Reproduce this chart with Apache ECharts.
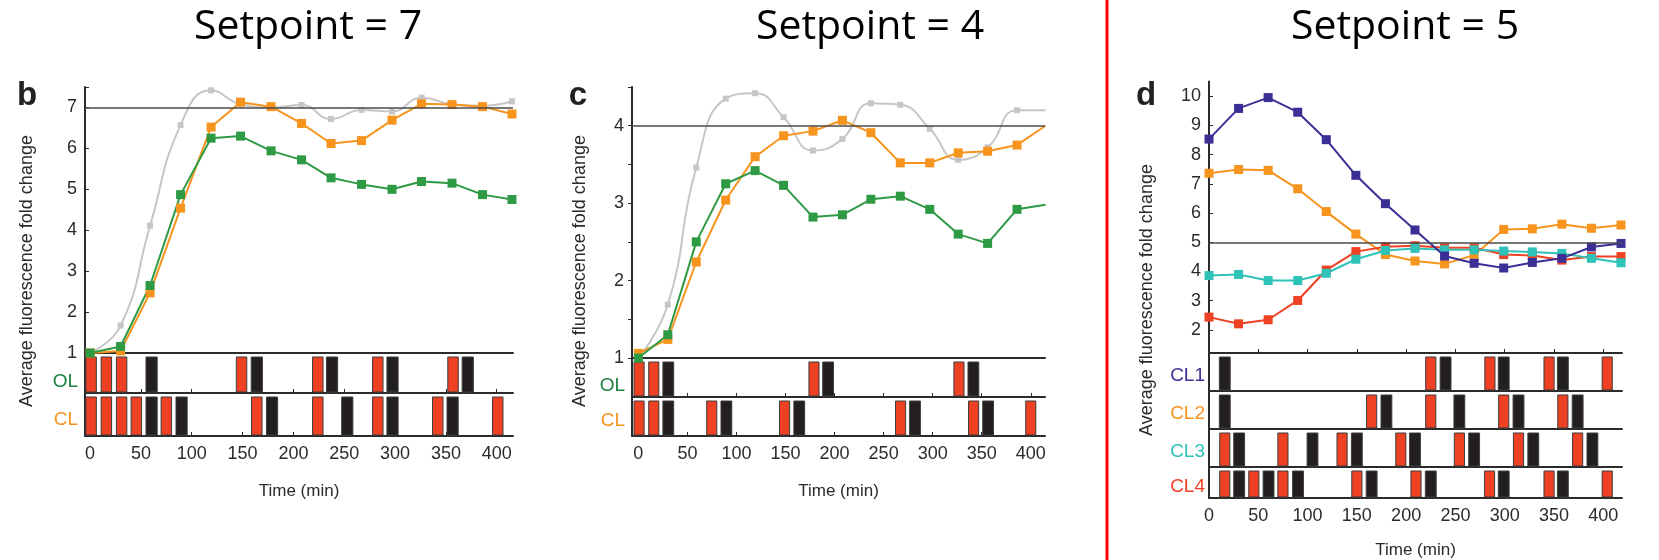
<!DOCTYPE html>
<html>
<head>
<meta charset="utf-8">
<script src="https://cdn.jsdelivr.net/npm/echarts@6/dist/echarts.min.js"></script>
<style>
html, body { margin: 0; padding: 0; background: #fff; }
#main { width: 1659px; height: 560px; }
</style>
</head>
<body>
<div id="main"></div>
<script>
// sampling times (min)
var timesBC = [0, 30, 59, 89, 119, 148, 178, 208, 237, 267, 297, 326, 356, 386, 415];
var timesD = [0, 30, 60, 90, 119, 149, 179, 209, 239, 269, 299, 328, 358, 388, 418];
var xTicks = [0, 50, 100, 150, 200, 250, 300, 350, 400];

// panel b, setpoint 7
var bOL = [1.0, 1.16, 2.65, 4.87, 6.25, 6.30, 5.94, 5.72, 5.28, 5.12, 5.0, 5.19, 5.15, 4.87, 4.75];
var bCL = [1.0, 1.05, 2.47, 4.54, 6.52, 7.13, 7.02, 6.61, 6.12, 6.19, 6.69, 7.09, 7.07, 7.02, 6.84];
var bModel = [1.0, 1.67, 4.11, 6.57, 7.42, 7.08, 7.0, 7.06, 6.72, 6.94, 6.9, 7.24, 7.08, 7.04, 7.15];
// panel c, setpoint 4
var cOL = [1.0, 1.30, 2.50, 3.25, 3.42, 3.23, 2.82, 2.85, 3.05, 3.09, 2.92, 2.60, 2.48, 2.92, 2.98];
var cCL = [1.06, 1.24, 2.24, 3.04, 3.60, 3.87, 3.93, 4.07, 3.91, 3.52, 3.52, 3.65, 3.67, 3.75, 4.0];
var cModel = [1.0, 1.69, 3.46, 4.35, 4.42, 4.11, 3.68, 3.83, 4.29, 4.27, 3.96, 3.56, 3.72, 4.20, 4.20];
// panel d, setpoint 5
var dCL1 = [8.53, 9.58, 9.95, 9.45, 8.51, 7.29, 6.32, 5.42, 4.53, 4.28, 4.12, 4.31, 4.45, 4.84, 4.96];
var dCL2 = [7.36, 7.49, 7.46, 6.83, 6.05, 5.28, 4.58, 4.36, 4.26, 4.56, 5.44, 5.46, 5.62, 5.48, 5.59];
var dCL3 = [3.86, 3.90, 3.69, 3.69, 3.94, 4.42, 4.72, 4.79, 4.74, 4.74, 4.70, 4.67, 4.62, 4.45, 4.30];
var dCL4 = [2.44, 2.21, 2.35, 3.01, 4.05, 4.68, 4.85, 4.88, 4.81, 4.81, 4.58, 4.55, 4.39, 4.51, 4.51];

// light pulses (centre time, min): red and black
var bOLRed = [1, 16, 31, 149, 224, 283, 357];
var bOLBlack = [60.5, 164, 238, 297.5, 371.5];
var bCLRed = [1, 16, 31, 45.5, 75, 164, 224, 283, 342, 401];
var bCLBlack = [60.5, 90, 179, 253, 297.5, 356.6];
var cOLRed = [0.7, 15.7, 179, 326.8];
var cOLBlack = [30.5, 193.4, 341.5];
var cCLRed = [0.7, 15.7, 74.8, 149, 267.3, 341.7, 400];
var cCLBlack = [30.5, 89.7, 164, 282, 356.5];
var d1Red = [225, 285, 345, 404];
var d1Black = [16, 240, 299, 359];
var d2Red = [165, 225, 299, 359];
var d2Black = [16, 180, 254, 314, 374];
var d3Red = [16, 75, 135, 194.6, 254, 314, 374];
var d3Black = [30.6, 105, 150, 209, 269, 329, 389];
var d4Red = [16, 45.5, 75, 150, 210, 284.6, 345, 404];
var d4Black = [30.6, 60.4, 90.3, 165, 225, 299, 359];

var FONT = '"Liberation Sans", Arial, Helvetica, sans-serif';
var INK = '#2b2b2b';
var GREEN = '#2e9a44', ORANGE = '#f7941d', GREY = '#c6c6c6';
var PURPLE = '#3b2f96', CYAN = '#2fc2b8', RED = '#ef4123';

var myChart = echarts.init(document.getElementById('main'));

function pairs(ts, vs) {
  return ts.map(function (t, i) { return [t, vs[i]]; });
}
function pulses(red, black) {
  return red.map(function (t) { return [t, 0, 0]; })
    .concat(black.map(function (t) { return [t, 0, 1]; }));
}
function pulseItem(params, api) {
  var kind = api.value(2);
  var w = kind === 0 ? 10.3 : 11;
  var t = api.value(0);
  var p0 = api.coord([t - w / 2, 0]);
  var p1 = api.coord([t + w / 2, 0]);
  var band = api.size([0, 1])[1];
  var top = p0[1] - band / 2 + 4;
  var bottom = p0[1] + band / 2 - 1;
  return {
    type: 'rect',
    shape: { x: p0[0], y: top, width: p1[0] - p0[0], height: bottom - top },
    style: { fill: kind === 0 ? '#ee4124' : '#231f20', stroke: '#3d3d3d', lineWidth: 1 }
  };
}

var grids = [], xAxes = [], yAxes = [], series = [];

function intLabel(v) { return Math.abs(v - Math.round(v)) < 1e-6 ? String(Math.round(v)) : ''; }

function addLineGrid(pos, xr, yr, opt) {
  var gi = grids.length;
  grids.push({ left: pos[0], top: pos[1], width: pos[2], height: pos[3] });
  xAxes.push({
    type: 'value', gridIndex: gi, min: xr[0], max: xr[1], show: opt.showX,
    axisLine: { show: true, onZero: false, lineStyle: { color: INK, width: 2 } },
    axisTick: { show: false }, axisLabel: { show: false }, splitLine: { show: false }
  });
  yAxes.push({
    type: 'value', gridIndex: gi, min: yr[0], max: yr[1], interval: yr[2],
    axisLine: { show: true, onZero: false, lineStyle: { color: INK, width: 2 } },
    axisTick: { show: true, inside: opt.tickInside, length: 4, lineStyle: { color: INK }, customValues: opt.tickValues },
    axisLabel: { color: INK, fontSize: 18, fontFamily: FONT, margin: 8,
      formatter: function (v) { return opt.hide.indexOf(v) >= 0 ? '' : intLabel(v); } },
    splitLine: { show: false }
  });
  return gi;
}

function addRow(pos, xr, name, color, red, black, opt) {
  var gi = grids.length;
  grids.push({ left: pos[0], top: pos[1], width: pos[2], height: pos[3] });
  xAxes.push({
    type: 'value', gridIndex: gi, min: xr[0], max: xr[1],
    name: opt.last ? 'Time (min)' : '', nameLocation: 'middle', nameGap: opt.nameGap || 46,
    nameTextStyle: { color: INK, fontSize: 17, fontFamily: FONT },
    axisLine: { show: true, onZero: false, lineStyle: { color: INK, width: 2 } },
    axisTick: { show: !!opt.ticks, inside: true, length: 4, lineStyle: { color: INK }, customValues: xTicks },
    axisLabel: { show: !!opt.last, color: INK, fontSize: 18, fontFamily: FONT, margin: 9, customValues: xTicks },
    splitLine: { show: false }
  });
  if (opt.topTicks) {
    xAxes.push({
      type: 'value', gridIndex: gi, min: xr[0], max: xr[1], position: 'top',
      axisLine: { show: true, onZero: false, lineStyle: { color: INK, width: 2 } },
      axisTick: { show: true, length: 4, lineStyle: { color: INK }, customValues: xTicks },
      axisLabel: { show: false }, splitLine: { show: false }
    });
  }
  var yi = yAxes.length;
  yAxes.push({
    type: 'category', gridIndex: gi, data: [name],
    axisLine: { show: true, onZero: false, lineStyle: { color: INK, width: 2 } },
    axisTick: { show: false },
    axisLabel: { color: color, fontSize: 19, fontFamily: FONT, margin: opt.margin || 7,
      verticalAlign: 'top', lineHeight: 2 * opt.drop },
    splitLine: { show: false }
  });
  series.push({
    type: 'custom', coordinateSystem: 'cartesian2d',
    xAxisIndex: xAxes.length - (opt.topTicks ? 2 : 1), yAxisIndex: yi,
    encode: { x: 0, y: 1 }, renderItem: pulseItem, silent: true,
    data: pulses(red, black)
  });
}

function lineSeries(gi, data, color, size, smooth, setpoint) {
  var s = {
    type: 'line', xAxisIndex: gi, yAxisIndex: gi, data: data,
    symbol: 'rect', symbolSize: size, smooth: smooth, silent: true,
    lineStyle: { color: color, width: 2 }, itemStyle: { color: color },
    animation: false
  };
  if (setpoint !== undefined) {
    s.markLine = {
      silent: true, symbol: 'none', label: { show: false },
      lineStyle: { color: '#4a4a4a', width: 1.5, type: 'solid' },
      data: [{ yAxis: setpoint }]
    };
  }
  return s;
}

// ---- panel b
var xB = [-5, 416];
var gB = addLineGrid([85, 87, 428, 266], xB, [1, 7.5, 1], { showX: true, tickInside: true, hide: [] });
series.push(lineSeries(gB, pairs(timesBC, bModel), GREY, 6, true, 7));
series.push(lineSeries(gB, pairs(timesBC, bCL), ORANGE, 9, false));
series.push(lineSeries(gB, pairs(timesBC, bOL), GREEN, 9, false));
addRow([85, 353, 428, 40], xB, 'OL', '#1d7f3d', bOLRed, bOLBlack, { ticks: true, drop: 9 });
addRow([85, 393, 428, 43], xB, 'CL', ORANGE, bCLRed, bCLBlack, { ticks: true, last: true, nameGap: 47, drop: 5 });

// ---- panel c
var xC = [-6.5, 414.5];
var gC = addLineGrid([632, 87, 413, 271], xC, [1, 4.5, 0.5], { showX: true, tickInside: false, hide: [] });
series.push(lineSeries(gC, pairs(timesBC, cModel), GREY, 6, true, 4));
series.push(lineSeries(gC, pairs(timesBC, cCL), ORANGE, 9, false));
series.push(lineSeries(gC, pairs(timesBC, cOL), GREEN, 9, false));
addRow([632, 358, 413, 39], xC, 'OL', '#1d7f3d', cOLRed, cOLBlack, { ticks: true, drop: 8 });
addRow([632, 397, 413, 39], xC, 'CL', ORANGE, cCLRed, cCLBlack, { ticks: true, last: true, nameGap: 47, drop: 4 });

// ---- panel d
var xD = [0, 419];
var gD = addLineGrid([1209, 81.5, 413, 277.7], xD, [1, 10.5, 1],
  { showX: false, tickInside: true, hide: [1], tickValues: [2, 3, 4, 5, 6, 7, 8, 9, 10] });
series.push(lineSeries(gD, pairs(timesD, dCL2), ORANGE, 9, false, 5));
series.push(lineSeries(gD, pairs(timesD, dCL4), RED, 9, false));
series.push(lineSeries(gD, pairs(timesD, dCL3), CYAN, 9, false));
series.push(lineSeries(gD, pairs(timesD, dCL1), PURPLE, 9, false));
addRow([1209, 353, 413, 38], xD, 'CL1', PURPLE, d1Red, d1Black, { topTicks: true, margin: 4, drop: 4 });
addRow([1209, 391, 413, 38], xD, 'CL2', ORANGE, d2Red, d2Black, { margin: 4, drop: 4 });
addRow([1209, 429, 413, 38], xD, 'CL3', CYAN, d3Red, d3Black, { margin: 4, drop: 4 });
addRow([1209, 467, 413, 37], xD, 'CL4', RED, d4Red, d4Black, { last: true, margin: 4, nameGap: 44, drop: 4 });

function txt(x, y, text, size, extra) {
  var st = { text: text, x: 0, y: 0, fill: (extra && extra.color) || '#000',
    font: ((extra && extra.weight) || 'normal') + ' ' + size + 'px ' + ((extra && extra.family) || FONT),
    textAlign: 'center', textVerticalAlign: 'middle' };
  return { type: 'text', x: x, y: y, rotation: (extra && extra.rot) || 0, style: st, silent: true };
}

var ylab = 'Average fluorescence fold change';
var option = {
  animation: false,
  grid: grids,
  xAxis: xAxes,
  yAxis: yAxes,
  series: series,
  graphic: [
    txt(308, 27, 'Setpoint = 7', 41, { family: '"Open Sans", "Noto Sans", sans-serif' }),
    txt(870, 27, 'Setpoint = 4', 41, { family: '"Open Sans", "Noto Sans", sans-serif' }),
    txt(1405, 27, 'Setpoint = 5', 41, { family: '"Open Sans", "Noto Sans", sans-serif' }),
    txt(27, 96, 'b', 33, { weight: 'bold', color: '#222' }),
    txt(578, 96, 'c', 33, { weight: 'bold', color: '#222' }),
    txt(1146, 96, 'd', 33, { weight: 'bold', color: '#222' }),
    txt(27, 271, ylab, 18, { rot: Math.PI / 2, color: INK }),
    txt(580, 271, ylab, 18, { rot: Math.PI / 2, color: INK }),
    txt(1147, 300, ylab, 18, { rot: Math.PI / 2, color: INK }),
    { type: 'line', shape: { x1: 1107, y1: 0, x2: 1107, y2: 560 },
      style: { stroke: '#ff0000', lineWidth: 3 }, silent: true }
  ]
};
myChart.setOption(option);
</script>
</body>
</html>
